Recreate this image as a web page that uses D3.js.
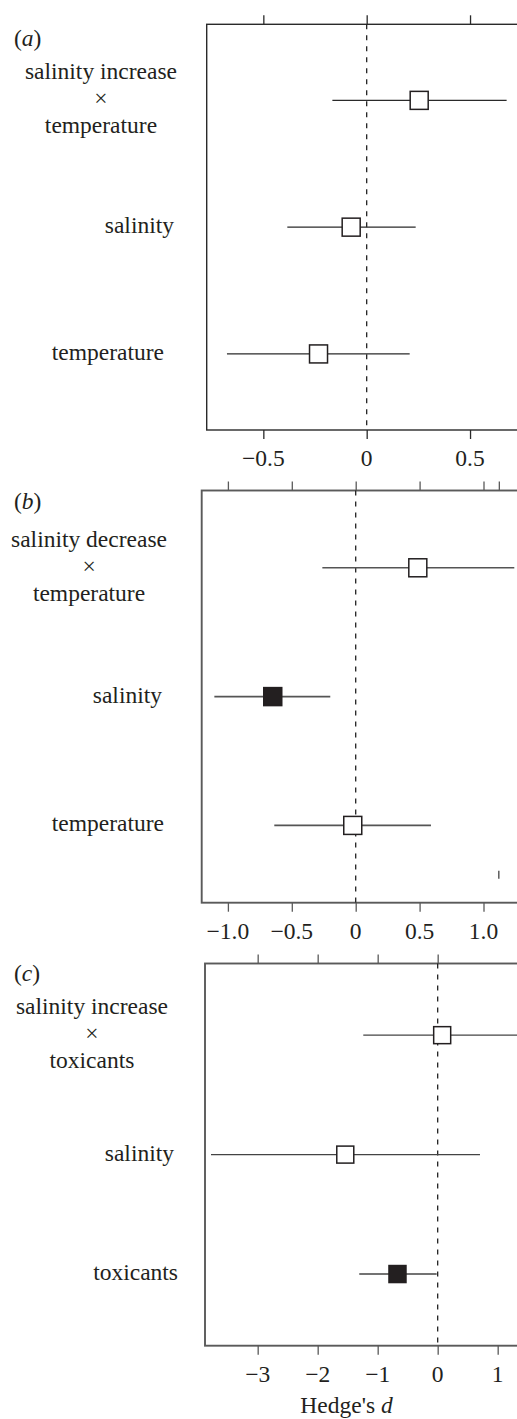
<!DOCTYPE html>
<html>
<head>
<meta charset="utf-8">
<script src="https://cdn.jsdelivr.net/npm/d3@7"></script>
<style>
  body { margin: 0; background: #fff; }
  svg { display: block; }
</style>
</head>
<body>
<svg id="chart" width="517" height="1419" font-family="'Liberation Serif', 'Times New Roman', 'DejaVu Serif', serif"></svg>
<script>
// data: effect sizes (Hedge's d) with confidence limits
var rowLabelsA = [["salinity increase", "×", "temperature"], ["salinity"], ["temperature"]];
var estA = [0.254, -0.075, -0.233];
var lowA = [-0.166, -0.384, -0.676];
var highA = [0.677, 0.237, 0.208];
var filledA = [false, false, false];

var rowLabelsB = [["salinity decrease", "×", "temperature"], ["salinity"], ["temperature"]];
var estB = [0.486, -0.649, -0.023];
var lowB = [-0.261, -1.106, -0.637];
var highB = [1.241, -0.199, 0.589];
var filledB = [false, true, false];

var rowLabelsC = [["salinity increase", "×", "toxicants"], ["salinity"], ["toxicants"]];
var estC = [0.075, -1.54, -0.67];
var lowC = [-1.24, -3.778, -1.307];
var highC = [1.45, 0.705, -0.017];
var filledC = [false, false, true];

var bottomTicksA = [-0.5, 0, 0.5];
var bottomLabelsA = ["−0.5", "0", "0.5"];
var topTicksA = [-0.5, 0, 0.5];

var bottomTicksB = [-1, -0.5, 0, 0.5, 1];
var bottomLabelsB = ["−1.0", "−0.5", "0", "0.5", "1.0"];
var topTicksB = [-1, -0.5, 0, 0.5, 1, 1.12];
var strayTicksB = [1.12];

var bottomTicksC = [-3, -2, -1, 0, 1];
var bottomLabelsC = ["−3", "−2", "−1", "0", "1"];
var topTicksC = [-3, -2, -1, 0];

var panels = [
  { letter: "a", labels: rowLabelsA, est: estA, low: lowA, high: highA, filled: filledA,
    bt: bottomTicksA, bl: bottomLabelsA, tt: topTicksA, stray: [],
    top: 24.3, bottom: 430, left: 206.7, xlim: [-0.774, 0.8], ppu: 206.7,
    labelRight: [177, 174, 164], letterY: 46, box: 18,
    frame: "#2a2a2a", frameW: 1.4, bar: "#2a2a2a", barW: 1.3 },
  { letter: "b", labels: rowLabelsB, est: estB, low: lowB, high: highB, filled: filledB,
    bt: bottomTicksB, bl: bottomLabelsB, tt: topTicksB, stray: strayTicksB,
    top: 490.5, bottom: 902.7, left: 201.7, xlim: [-1.205, 1.35], ppu: 127.8,
    labelRight: [167, 162, 164], letterY: 509, box: 18,
    frame: "#5a5a5a", frameW: 1.9, bar: "#555", barW: 1.6 },
  { letter: "c", labels: rowLabelsC, est: estC, low: lowC, high: highC, filled: filledC,
    bt: bottomTicksC, bl: bottomLabelsC, tt: topTicksC, stray: [],
    top: 963.5, bottom: 1345.7, left: 205, xlim: [-3.878, 1.55], ppu: 60,
    labelRight: [168, 174, 178], letterY: 981, box: 17,
    frame: "#5a5a5a", frameW: 1.9, bar: "#444", barW: 1.4 }
];

var svg = d3.select("#chart");
var serif = "'Liberation Serif', 'Times New Roman', 'DejaVu Serif', serif";
var ink = "#231f20";
var fontSize = 23.5;
var lineGap = 27;

panels.forEach(function (p) {
  var x = d3.scaleLinear()
    .domain(p.xlim)
    .range([p.left, p.left + (p.xlim[1] - p.xlim[0]) * p.ppu]);
  var y = d3.scaleLinear().domain([0.4, 3.6]).range([p.top, p.bottom]);
  var g = svg.append("g");
  var rows = d3.range(p.est.length);

  // frame (right side runs off the page)
  g.append("rect")
    .attr("x", x(p.xlim[0])).attr("y", y(0.4))
    .attr("width", x(p.xlim[1]) - x(p.xlim[0]))
    .attr("height", y(3.6) - y(0.4))
    .attr("fill", "none").attr("stroke", p.frame).attr("stroke-width", p.frameW);

  // axes: ticks only, frame already drawn
  var bottomAxis = d3.axisBottom(x).tickValues(p.bt).tickFormat("").tickSizeInner(9).tickSizeOuter(0);
  var topAxis = d3.axisTop(x).tickValues(p.tt).tickFormat("").tickSizeInner(9).tickSizeOuter(0);
  var gb = g.append("g").attr("transform", "translate(0," + y(3.6) + ")").call(bottomAxis);
  var gt = g.append("g").attr("transform", "translate(0," + y(0.4) + ")").call(topAxis);
  [gb, gt].forEach(function (ax) {
    ax.select(".domain").remove();
    ax.selectAll(".tick line").attr("stroke", p.frame).attr("stroke-width", 1.3);
  });

  g.selectAll("text.ticklab")
    .data(p.bt)
    .enter().append("text")
    .attr("class", "ticklab")
    .attr("x", function (d) { return x(d); })
    .attr("y", y(3.6) + 36)
    .attr("text-anchor", "middle")
    .attr("font-family", serif)
    .attr("font-size", fontSize)
    .attr("fill", ink)
    .text(function (d, i) { return p.bl[i]; });

  // odd little mark inside panel b
  g.selectAll("line.stray")
    .data(p.stray)
    .enter().append("line")
    .attr("class", "stray")
    .attr("x1", function (d) { return x(d); })
    .attr("x2", function (d) { return x(d); })
    .attr("y1", y(3.6) - 32).attr("y2", y(3.6) - 24)
    .attr("stroke", "#333").attr("stroke-width", 1.2);

  // zero line
  g.append("line")
    .attr("x1", x(0)).attr("x2", x(0))
    .attr("y1", y(0.4)).attr("y2", y(3.6))
    .attr("stroke", "#222").attr("stroke-width", 1.3)
    .attr("stroke-dasharray", "5,6");

  // confidence intervals
  g.selectAll("line.ci")
    .data(rows)
    .enter().append("line")
    .attr("class", "ci")
    .attr("x1", function (i) { return x(p.low[i]); })
    .attr("x2", function (i) { return x(p.high[i]); })
    .attr("y1", function (i) { return y(i + 1); })
    .attr("y2", function (i) { return y(i + 1); })
    .attr("stroke", p.bar).attr("stroke-width", p.barW);

  // point estimates
  g.selectAll("rect.pt")
    .data(rows)
    .enter().append("rect")
    .attr("class", "pt")
    .attr("x", function (i) { return x(p.est[i]) - p.box / 2; })
    .attr("y", function (i) { return y(i + 1) - p.box / 2; })
    .attr("width", p.box).attr("height", p.box)
    .attr("fill", function (i) { return p.filled[i] ? ink : "#fff"; })
    .attr("stroke", ink).attr("stroke-width", 1.5);

  // row labels: lines centred in a block, block right-aligned
  rows.forEach(function (i) {
    var lines = p.labels[i];
    var lg = g.append("g");
    var texts = lg.selectAll("text")
      .data(lines)
      .enter().append("text")
      .attr("font-family", serif)
      .attr("font-size", fontSize)
      .attr("fill", ink)
      .attr("text-anchor", "middle")
      .attr("y", function (d, k) { return y(i + 1) + 6 + (k - (lines.length - 1) / 2) * lineGap; })
      .text(function (d) { return d; });
    var w = 0;
    texts.each(function () { w = Math.max(w, this.getComputedTextLength()); });
    texts.attr("x", p.labelRight[i] - w / 2);
  });

  // panel letter
  var lt = g.append("text").attr("x", 14).attr("y", p.letterY)
    .attr("font-family", serif).attr("font-size", fontSize).attr("fill", ink);
  lt.append("tspan").text("(");
  lt.append("tspan").attr("font-style", "italic").text(p.letter);
  lt.append("tspan").text(")");
});

var xl = svg.append("text")
  .attr("x", 346.5).attr("y", 1413)
  .attr("text-anchor", "middle")
  .attr("font-family", serif)
  .attr("font-size", fontSize)
  .attr("fill", ink);
xl.append("tspan").text("Hedge's ");
xl.append("tspan").attr("font-style", "italic").text("d");
</script>
</body>
</html>
